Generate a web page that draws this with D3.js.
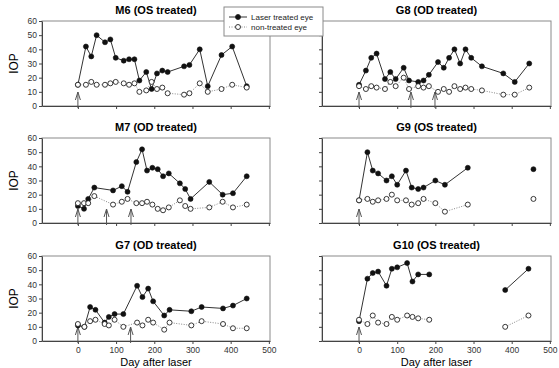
<!DOCTYPE html>
<html>
<head>
<meta charset="utf-8">
<script src="https://cdn.jsdelivr.net/npm/d3@7/dist/d3.min.js"></script>
<style>
  body { margin: 0; background: #fff; }
  svg { display: block; font-family: "Liberation Sans", Arial, sans-serif; }
</style>
</head>
<body>
<div id="chart"></div>
<script>
const width = 559;
const height = 368;

// M6 (OS treated)
const m6Days    = [0, 21, 35, 49, 71, 85, 99, 120, 134, 148, 161, 179, 193, 207, 221, 235, 278, 292, 319, 340, 376, 404, 442];
const m6Treated = [15, 42, 35, 50, 45, 47, 34, 32, 33, 33, 18, 24, 12, 23, 25, 24, 28, 29, 40, 14, 36, 42, 14];
const m6Control = [15, 15, 17, 15, 15, 16, 17, 16, 15, 16, 10, 11, 17, 12, 13, 9, 8, 9, 16, 10, 12, 15, 13];
const m6Laser   = [0];

// G8 (OD treated)
const g8Days    = [0, 18, 32, 46, 68, 82, 96, 117, 131, 155, 169, 183, 207, 222, 236, 250, 265, 279, 294, 322, 378, 408, 446];
const g8Treated = [15, 25, 34, 37, 19, 24, 19, 27, 18, 17, 18, 22, 31, 27, 34, 40, 30, 40, 34, 28, 23, 17, 30];
const g8Control = [14, 12, 14, 13, 12, 17, 14, 20, 12, 14, 13, 14, 10, 12, 10, 14, 12, 13, 12, 11, 8, 8, 13];
const g8Laser   = [0, 136, 199];

// M7 (OD treated)
const m7Days    = [0, 16, 27, 43, 92, 115, 130, 153, 168, 181, 195, 209, 223, 238, 267, 281, 295, 344, 379, 406, 442];
const m7Treated = [12, 10, 17, 25, 23, 26, 22, 43, 52, 37, 39, 38, 33, 35, 28, 24, 17, 29, 20, 21, 33];
const m7Control = [14, 14, 14, 19, 13, 15, 17, 14, 14, 15, 13, 10, 9, 11, 16, 12, 10, 11, 15, 11, 13];
const m7Laser   = [0, 75, 139];

// G9 (OS treated)
const g9Days    = [0, 22, 36, 50, 72, 86, 100, 123, 138, 155, 169, 200, 225, 285, 457];
const g9Treated = [16, 50, 37, 35, 30, 33, 27, 37, 25, 24, 25, 30, 27, 39, 38];
const g9Control = [16, 17, 15, 16, 17, 20, 16, 16, 13, 14, 17, 14, 8, 13, 17];
const g9Laser   = [0];

// G7 (OD treated)
const g7Days    = [0, 17, 32, 46, 70, 81, 96, 119, 155, 169, 184, 197, 226, 240, 297, 324, 380, 406, 442];
const g7Treated = [11, 10, 24, 22, 13, 17, 19, 19, 39, 31, 37, 28, 18, 22, 21, 24, 23, 25, 30];
const g7Control = [12, 10, 14, 15, 12, 11, 15, 10, 13, 11, 15, 13, 8, 13, 11, 14, 12, 9, 9];
const g7Laser   = [0, 138];

// G10 (OS treated)
const g10Days    = [0, 22, 36, 50, 72, 86, 100, 126, 140, 155, 184, 383, 444];
const g10Treated = [14, 44, 48, 49, 39, 51, 52, 55, 42, 47, 47, 36, 51];
const g10Control = [15, 12, 18, 13, 12, 17, 15, 18, 17, 16, 15, 10, 18];
const g10Laser   = [0];

const yTicks = [0, 10, 20, 30, 40, 50, 60];
const xTicks = [0, 100, 200, 300, 400, 500];
const maxGap = 100; // visits further apart than this are not joined

const panels = [
    {title: 'M6 (OS treated)',  days: m6Days,  treated: m6Treated,  control: m6Control,  laser: m6Laser,  col: 0, row: 0},
    {title: 'G8 (OD treated)',  days: g8Days,  treated: g8Treated,  control: g8Control,  laser: g8Laser,  col: 1, row: 0},
    {title: 'M7 (OD treated)',  days: m7Days,  treated: m7Treated,  control: m7Control,  laser: m7Laser,  col: 0, row: 1},
    {title: 'G9 (OS treated)',  days: g9Days,  treated: g9Treated,  control: g9Control,  laser: g9Laser,  col: 1, row: 1},
    {title: 'G7 (OD treated)',  days: g7Days,  treated: g7Treated,  control: g7Control,  laser: g7Laser,  col: 0, row: 2},
    {title: 'G10 (OS treated)', days: g10Days, treated: g10Treated, control: g10Control, laser: g10Laser, col: 1, row: 2}
];

const colX = [{left: 42, right: 270, min: -94}, {left: 322, right: 551, min: -97}];
const rowY = [{top: 21, bottom: 106}, {top: 138, bottom: 223}, {top: 256, bottom: 341}];

const svg = d3.select('#chart')
              .append('svg')
              .attr('width', width)
              .attr('height', height);

panels.forEach(p => {
    const c = colX[p.col], r = rowY[p.row];
    const x = d3.scaleLinear().domain([c.min, 503]).range([c.left, c.right]);
    const y = d3.scaleLinear().domain([0, 60]).range([r.bottom, r.top]);
    const g = svg.append('g');

    // frame
    g.append('rect')
     .attr('x', c.left).attr('y', r.top)
     .attr('width', c.right - c.left).attr('height', r.bottom - r.top)
     .attr('fill', 'none').attr('stroke', '#8a8a8a').attr('stroke-width', 1);

    // y axis
    const yAxis = d3.axisLeft(y).tickValues(yTicks).tickSize(3).tickSizeOuter(0).tickPadding(2);
    if (p.col === 1) yAxis.tickFormat('');
    const ya = g.append('g').attr('transform', `translate(${c.left},0)`).call(yAxis);

    // x axis
    const xAxis = d3.axisBottom(x).tickValues(xTicks).tickSize(3).tickSizeOuter(0).tickPadding(3);
    if (p.row !== 2) xAxis.tickFormat('');
    const xa = g.append('g').attr('transform', `translate(0,${r.bottom})`).call(xAxis);

    [ya, xa].forEach(a => {
        a.select('.domain').attr('stroke', '#444');
        a.selectAll('.tick line').attr('stroke', '#444');
        a.selectAll('.tick text').attr('fill', '#333').style('font-size', '8.5px')
         .style('font-family', '"Liberation Sans", Arial, sans-serif');
    });

    // title
    g.append('text')
     .attr('x', (c.left + c.right) / 2).attr('y', r.top - 7)
     .attr('text-anchor', 'middle')
     .style('font-size', '11px').style('font-weight', 'bold')
     .text(p.title);

    if (p.col === 0) {
        g.append('text')
         .attr('transform', `translate(18,${(r.top + r.bottom) / 2}) rotate(-90)`)
         .attr('text-anchor', 'middle')
         .style('font-size', '12px')
         .text('IOP');
    }

    // laser arrows
    p.laser.forEach(d => {
        const ax = x(d), tip = r.bottom - 14;
        g.append('path')
         .attr('d', `M${ax},${r.bottom + 2}V${tip}M${ax - 2.5},${tip + 8}L${ax},${tip}L${ax + 2.5},${tip + 8}`)
         .attr('fill', 'none').attr('stroke', '#555').attr('stroke-width', 1);
    });

    const pts = vals => p.days.map((d, i) => ({d: d, v: vals[i], brk: i > 0 && d - p.days[i - 1] > maxGap}));
    const treated = pts(p.treated), control = pts(p.control);

    const segments = arr => {
        const segs = [];
        arr.forEach(o => {
            if (!segs.length || o.brk) segs.push([]);
            segs[segs.length - 1].push(o);
        });
        return segs;
    };
    const line = d3.line().x(o => x(o.d)).y(o => y(o.v));

    g.selectAll('.tline').data(segments(treated)).enter().append('path')
     .attr('d', line).attr('fill', 'none').attr('stroke', '#333').attr('stroke-width', 1);
    g.selectAll('.cline').data(segments(control)).enter().append('path')
     .attr('d', line).attr('fill', 'none').attr('stroke', '#888').attr('stroke-width', 1)
     .attr('stroke-dasharray', '1,1.5');

    g.selectAll('.tdot').data(treated).enter().append('circle')
     .attr('cx', o => x(o.d)).attr('cy', o => y(o.v)).attr('r', 2.5)
     .attr('fill', '#111').attr('stroke', '#111').attr('stroke-width', 0.6);
    g.selectAll('.cdot').data(control).enter().append('circle')
     .attr('cx', o => x(o.d)).attr('cy', o => y(o.v)).attr('r', 2.5)
     .attr('fill', '#fff').attr('stroke', '#222').attr('stroke-width', 0.9);
});

// x axis title under each bottom panel
colX.forEach(c => {
    svg.append('text')
       .attr('x', (c.left + c.right) / 2).attr('y', 365.5)
       .attr('text-anchor', 'middle')
       .style('font-size', '11px')
       .text('Day after laser');
});

// legend
const legend = svg.append('g').attr('transform', 'translate(224,7)');
legend.append('rect')
      .attr('width', 99).attr('height', 29)
      .attr('fill', '#fff').attr('stroke', '#8a8a8a');
const legendItems = [
    {label: 'Laser treated eye', fill: '#111', stroke: '#333', dash: null},
    {label: 'non-treated eye', fill: '#fff', stroke: '#888', dash: '1,1.5'}
];
legendItems.forEach((it, i) => {
    const ly = 10 + i * 10;
    legend.append('line')
          .attr('x1', 5).attr('x2', 23).attr('y1', ly).attr('y2', ly)
          .attr('stroke', it.stroke).attr('stroke-dasharray', it.dash);
    legend.append('circle')
          .attr('cx', 14).attr('cy', ly).attr('r', 2.5)
          .attr('fill', it.fill).attr('stroke', '#222').attr('stroke-width', 0.9);
    legend.append('text')
          .attr('x', 27).attr('y', ly + 3)
          .style('font-size', '8px').attr('fill', '#222')
          .text(it.label);
});
</script>
</body>
</html>
